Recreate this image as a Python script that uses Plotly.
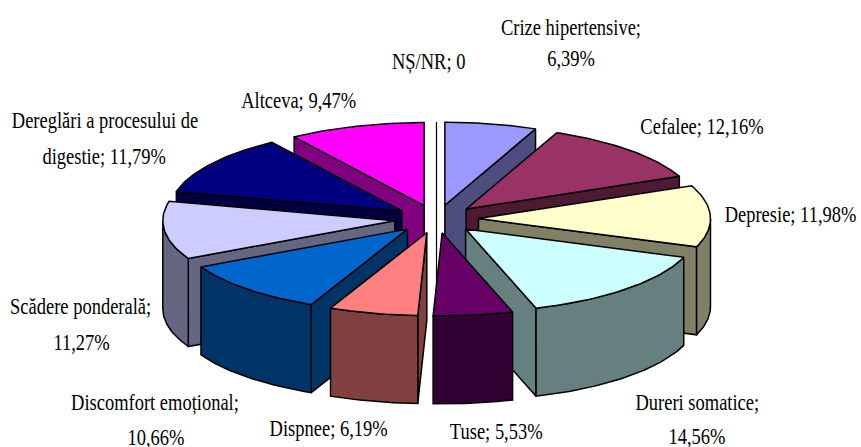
import math
import plotly.graph_objects as go

categories = ["NȘ/NR", "Crize hipertensive", "Cefalee", "Depresie", "Dureri somatice", "Tuse",
              "Dispnee", "Discomfort emoțional", "Scădere ponderală",
              "Dereglări a procesului de digestie", "Altceva"]
values = [0, 6.39, 12.16, 11.98, 14.56, 5.53, 6.19, 10.66, 11.27, 11.79, 9.47]
top_colors = ["#FFFFFF", "#9999FF", "#993366", "#FFFFCC", "#CCFFFF", "#660066",
              "#FF8080", "#0066CC", "#CCCCFF", "#000080", "#FF00FF"]
wall_colors = ["#FFFFFF", "#4D4D80", "#4D1A33", "#808066", "#668080", "#330033",
               "#804040", "#003366", "#666680", "#000040", "#800080"]
# painter's order, back to front
draw_order = ["NȘ/NR", "Altceva", "Crize hipertensive", "Dereglări a procesului de digestie", "Cefalee",
              "Scădere ponderală", "Depresie", "Discomfort emoțional", "Dureri somatice", "Dispnee", "Tuse"]

# projection of the 3-D pie on the page
CX, CY, RX, RY, DEPTH = 436.5, 219, 232, 83, 88
EXPLODE_X, EXPLODE_Y = 42, 14


def pt(ox, oy, deg, z=0):
    a = math.radians(deg)
    return ox + RX * math.sin(a), oy - RY * math.cos(a) + z


def arc(ox, oy, a, b, z=0, n=40):
    return [pt(ox, oy, a + (b - a) * i / n, z) for i in range(n + 1)]


def poly(points, fill, name):
    xs = [p[0] for p in points] + [points[0][0]]
    ys = [p[1] for p in points] + [points[0][1]]
    return go.Scatter(x=xs, y=ys, mode="lines", fill="toself", fillcolor=fill, name=name,
                      line=dict(color="black", width=1.5), hoverinfo="name", showlegend=False)


total = sum(values)
spans = {}
acc = 0
for cat, v in zip(categories, values):
    a = acc / total * 360
    acc += v
    spans[cat] = (a, acc / total * 360, v)

fig = go.Figure()
for cat in draw_order:
    idx = categories.index(cat)
    a, b, v = spans[cat]
    mid = math.radians((a + b) / 2)
    ox = CX + EXPLODE_X * math.sin(mid)
    oy = CY - EXPLODE_Y * math.cos(mid)
    top, wall = top_colors[idx], wall_colors[idx]
    if v == 0:
        x, y = pt(ox, oy, a)
        fig.add_trace(go.Scatter(x=[x, x], y=[y, oy + DEPTH], mode="lines", name=cat,
                                 line=dict(color="black", width=1.2), hoverinfo="name", showlegend=False))
        continue
    # radial walls that face the viewer
    if 180 < a < 360:
        fig.add_trace(poly([(ox, oy), pt(ox, oy, a), pt(ox, oy, a, DEPTH), (ox, oy + DEPTH)], wall, cat))
    if 0 < b < 180:
        fig.add_trace(poly([(ox, oy), pt(ox, oy, b), pt(ox, oy, b, DEPTH), (ox, oy + DEPTH)], wall, cat))
    # outer curved wall (front half only)
    lo, hi = max(a, 90), min(b, 270)
    if lo < hi:
        fig.add_trace(poly(arc(ox, oy, lo, hi) + arc(ox, oy, hi, lo, DEPTH), wall, cat))
    # top face
    fig.add_trace(poly([(ox, oy)] + arc(ox, oy, a, b), top, cat))

label_lines = [
    ("Crize hipertensive;", 571, 27), ("6,39%", 571, 58), ("NȘ/NR; 0", 428, 61),
    ("Altceva; 9,47%", 298, 100), ("Dereglări a procesului de", 105, 120), ("digestie; 11,79%", 104, 156),
    ("Cefalee; 12,16%", 702, 126), ("Depresie; 11,98%", 790, 214),
    ("Dureri somatice;", 697, 402), ("14,56%", 697, 436), ("Tuse; 5,53%", 496, 431),
    ("Dispnee; 6,19%", 328, 428), ("Discomfort emoțional;", 155, 402), ("10,66%", 156, 437),
    ("Scădere ponderală;", 80, 306), ("11,27%", 81, 342),
]
for text, x, y in label_lines:
    fig.add_annotation(x=x, y=y, text=text, showarrow=False, xanchor="center", yanchor="middle",
                       font=dict(family="Liberation Serif", size=24, color="black"))

fig.update_layout(
    width=861, height=447, margin=dict(l=0, r=0, t=0, b=0),
    paper_bgcolor="white", plot_bgcolor="white", showlegend=False,
    xaxis=dict(range=[0, 861], visible=False, fixedrange=True),
    yaxis=dict(range=[447, 0], visible=False, fixedrange=True),
)
# page margin off, and the labels condensed horizontally as in the reference
post = """
document.body.style.margin = '0';
document.querySelectorAll('.annotation-text').forEach(function (t) {
  var w = t.getComputedTextLength();
  t.setAttribute('lengthAdjust', 'spacingAndGlyphs');
  t.setAttribute('textLength', (w * 0.77).toFixed(1));
});
"""
fig.write_html("out.html", config={"displayModeBar": False}, post_script=post)
